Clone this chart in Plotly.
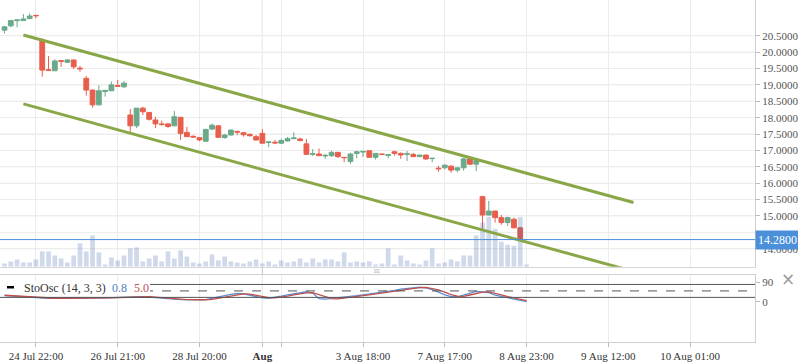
import plotly.graph_objects as go

# ---------------- data ----------------
candle_idx = list(range(84))
opens = [20.67, 20.80, 20.96, 20.96, 21.02, 21.12, 20.37, 19.46, 19.43, 19.74,
         19.69, 19.76, 19.51, 19.20, 18.84, 18.39, 18.80, 18.82, 18.98, 18.94,
         18.08, 17.75, 18.29, 18.16, 17.93, 17.81, 17.81, 17.75, 18.01, 17.55,
         17.43, 17.39, 17.28, 17.65, 17.75, 17.39, 17.47, 17.58, 17.54, 17.49,
         17.42, 17.52, 17.24, 17.25, 17.22, 17.29, 17.36, 17.35, 17.20, 16.88,
         16.89, 16.83, 16.84, 16.94, 16.79, 16.66, 16.91, 16.95, 16.99, 16.79,
         16.89, 16.85, 16.96, 16.91, 16.88, 16.88, 16.81, 16.86, 16.75, 16.46,
         16.47, 16.52, 16.40, 16.47, 16.74, 16.58, 15.59, 15.03, 15.15, 14.95,
         14.80, 14.90, 14.64, None]
highs = [20.80, 20.98, 21.00, 21.16, 21.18, 21.12, 20.42, 19.88, 19.78, 19.75,
         19.79, 19.77, 19.58, 19.27, 18.86, 18.99, 18.84, 19.10, 19.15, 19.12,
         18.26, 18.29, 18.33, 18.17, 18.03, 17.91, 17.84, 18.20, 18.02, 17.72,
         17.46, 17.41, 17.66, 17.82, 17.77, 17.50, 17.64, 17.60, 17.56, 17.52,
         17.47, 17.65, 17.27, 17.32, 17.36, 17.41, 17.55, 17.39, 17.35, 17.04,
         17.06, 16.89, 16.99, 16.96, 16.79, 16.93, 16.99, 16.98, 17.00, 16.91,
         16.89, 16.89, 16.99, 16.94, 16.98, 16.92, 16.86, 16.86, 16.76, 16.53,
         16.58, 16.55, 16.49, 16.78, 16.78, 16.71, 15.62, 15.46, 15.16, 15.03,
         14.98, 14.95, 14.67, None]
lows = [20.57, 20.76, 20.76, 20.96, 21.02, 21.03, 19.25, 19.42, 19.42, 19.55,
        19.68, 19.48, 19.40, 18.67, 18.30, 18.38, 18.64, 18.82, 18.96, 18.91,
        17.55, 17.68, 18.08, 17.91, 17.68, 17.75, 17.69, 17.74, 17.32, 17.41,
        17.38, 17.28, 17.27, 17.62, 17.38, 17.36, 17.45, 17.47, 17.42, 17.42,
        17.30, 17.22, 17.10, 17.19, 17.21, 17.27, 17.34, 17.28, 16.87, 16.83,
        16.83, 16.74, 16.80, 16.77, 16.64, 16.59, 16.76, 16.80, 16.78, 16.72,
        16.88, 16.76, 16.84, 16.74, 16.68, 16.80, 16.80, 16.71, 16.64, 16.35,
        16.42, 16.32, 16.33, 16.38, 16.56, 16.37, 14.59, 15.02, 14.80, 14.73,
        14.70, 14.62, 14.25, None]
closes = [20.77, 20.96, 20.98, 21.01, 21.10, 21.11, 19.45, 19.44, 19.73, 19.72,
          19.76, 19.55, 19.49, 18.84, 18.39, 18.82, 18.83, 19.00, 18.96, 19.05,
          17.75, 18.29, 18.18, 17.95, 17.81, 17.79, 17.73, 18.03, 17.52, 17.42,
          17.41, 17.32, 17.64, 17.77, 17.40, 17.47, 17.62, 17.56, 17.48, 17.45,
          17.32, 17.22, 17.26, 17.23, 17.30, 17.36, 17.38, 17.30, 16.88, 16.90,
          16.84, 16.85, 16.94, 16.81, 16.78, 16.89, 16.96, 16.97, 16.79, 16.91,
          16.88, 16.87, 16.91, 16.86, 16.90, 16.81, 16.86, 16.74, 16.76, 16.44,
          16.55, 16.40, 16.47, 16.74, 16.58, 16.69, 15.03, 15.15, 14.95, 14.80,
          14.95, 14.64, 14.28, None]
volumes = [3.3, 5.3, 7.3, 4.3, 4.3, 7.3, 15.3, 15.3, 11.3, 8.3,
           4.3, 11.3, 23.3, 15.3, 31.3, 14.3, 2.3, 9.3, 6.3, 11.3,
           18.3, 19.3, 5.3, 8.3, 11.3, 5.3, 15.3, 8.3, 16.3, 10.3,
           4.3, 3.3, 5.3, 12.3, 6.3, 10.3, 5.3, 4.3, 3.3, 5.3,
           7.3, 3.3, 5.3, 2.3, 6.3, 4.3, 5.3, 8.3, 4.3, 8.3,
           4.3, 7.3, 7.3, 5.3, 14.3, 4.3, 5.3, 4.3, 5.3, 2.3,
           3.3, 18.3, 2.3, 11.3, 6.3, 3.3, 2.3, 6.3, 18.3, 3.3,
           4.3, 7.3, 5.3, 11.3, 11.3, 31.3, 44.0, 49.6, 38.0, 25.0,
           22.0, 21.0, 49.6, 2.3]
sto_k = [28, 26, 24, 22, 20, 19, 17, 16, 16, 16,
         15, 15, 16, 17, 17, 18, 18, 19, 20, 22,
         23, 24, 23, 21, 18, 15, 13, 12, 10, 9,
         8, 8, 10, 15, 22, 28, 34, 38, 36, 30,
         24, 18, 16, 20, 26, 32, 37, 41, 46, 40,
         14, 12, 15, 16, 20, 24, 28, 32, 36, 40,
         42, 46, 52, 58, 62, 66, 67, 64, 56, 44,
         32, 24, 22, 30, 40, 48, 46, 42, 30, 24,
         18, 12, 6, 0.8]
sto_d = [30, 28, 26, 24, 22, 20, 19, 17, 16, 16,
         16, 15, 15, 16, 16, 17, 18, 18, 19, 20,
         22, 23, 23, 23, 21, 18, 15, 13, 12, 10,
         9, 8, 9, 11, 16, 22, 28, 33, 36, 35,
         30, 24, 19, 18, 21, 26, 32, 37, 41, 42,
         33, 22, 14, 13, 16, 20, 24, 28, 32, 36,
         39, 43, 47, 52, 57, 62, 65, 66, 62, 55,
         44, 33, 26, 25, 31, 39, 44, 45, 40, 32,
         24, 18, 12, 5.0]
sto_levels = [80, 50, 20]
last_price = 14.28
channel_x = [3, 100]
channel_upper = [20.52, 15.41]
channel_lower = [18.42, 13.31]
month_mark = 41
tick_idx = [5, 18, 31, 41, 44, 57, 70, 83, 96, 109]
tick_text = ["24 Jul 22:00", "26 Jul 21:00", "28 Jul 20:00", "<b>Aug</b>", "",
             "3 Aug 18:00", "7 Aug 17:00", "8 Aug 23:00", "9 Aug 12:00", "10 Aug 01:00"]
# 14.5 sits fully behind the last-price badge in the reference, so it is not drawn
price_ticks = [14.0, 15.0, 15.5, 16.0, 16.5, 17.0, 17.5, 18.0, 18.5, 19.0, 19.5, 20.0, 20.5]
price_grid = [14.0, 14.5, 15.0, 15.5, 16.0, 16.5, 17.0, 17.5, 18.0, 18.5, 19.0, 19.5, 20.0, 20.5]

# ---------------- layout geometry ----------------
W, H = 798, 363
ML, MR, MT, MB = 0, 43, 0, 21
PW = W - ML - MR
PH = H - MT - MB


def px_x(px):
    return (px - ML) / PW


def px_y(py):
    return (H - MB - py) / PH


MAIN_TOP, MAIN_BOT = 0, 266.7
OSC_TOP, OSC_BOT = 275, 342
X_RANGE = [-0.715, 119.32]
PRICE_RANGE = [13.453, 21.589]
OSC_RANGE = [-186.9, 123.8]
VOL_RANGE = [0, 266.7]

SERIF = "Liberation Serif, Times New Roman, serif"
GREEN = "#6aa98a"
RED = "#e85e4c"
BLUE_LINE = "#4a8fd8"
CHANNEL = "rgb(138,167,72)"

fig = go.Figure()

fig.add_trace(go.Candlestick(
    x=candle_idx, open=opens, high=highs, low=lows, close=closes,
    increasing=dict(line=dict(color=GREEN, width=1), fillcolor=GREEN),
    decreasing=dict(line=dict(color=RED, width=1), fillcolor=RED),
    whiskerwidth=0, xaxis="x", yaxis="y", showlegend=False, hoverinfo="skip"))

fig.add_trace(go.Bar(
    x=candle_idx, y=volumes, marker=dict(color="rgba(70,110,175,0.26)", line=dict(width=0)),
    xaxis="x", yaxis="y3", showlegend=False, hoverinfo="skip"))

fig.add_trace(go.Scatter(
    x=candle_idx, y=sto_k, mode="lines", line=dict(color="#5b8fd0", width=1.3),
    xaxis="x2", yaxis="y2", showlegend=False, hoverinfo="skip"))
fig.add_trace(go.Scatter(
    x=candle_idx, y=sto_d, mode="lines", line=dict(color="#c0504d", width=1.3),
    xaxis="x2", yaxis="y2", showlegend=False, hoverinfo="skip"))

shapes = []
# horizontal price gridlines
for g in price_grid:
    shapes.append(dict(type="line", xref="x domain", yref="y", x0=0, x1=1, y0=g, y1=g,
                       line=dict(color="#ececec", width=1), layer="below"))
# month boundary line
shapes.append(dict(type="line", xref="x", yref="paper", x0=month_mark, x1=month_mark,
                   y0=0, y1=1, line=dict(color="#c4c4c4", width=1), layer="below"))
# stochastic levels
for i, lv in enumerate(sto_levels):
    shapes.append(dict(type="line", xref="x2 domain", yref="y2", x0=0, x1=1, y0=lv, y1=lv,
                       line=dict(color="#555", width=1, dash="dash" if i == 1 else "solid"),
                       layer="above"))
# channel lines
for ys in (channel_upper, channel_lower):
    shapes.append(dict(type="line", xref="x", yref="y", x0=channel_x[0], x1=channel_x[1],
                       y0=ys[0], y1=ys[1], line=dict(color=CHANNEL, width=3), layer="above"))
# last price line
shapes.append(dict(type="line", xref="x domain", yref="y", x0=0, x1=1, y0=last_price, y1=last_price,
                   line=dict(color=BLUE_LINE, width=1), layer="above"))
# legend box in oscillator panel
shapes.append(dict(type="rect", xref="paper", yref="paper", x0=px_x(0), x1=px_x(150),
                   y0=px_y(293.5), y1=px_y(281.5), fillcolor="white", line=dict(width=0),
                   layer="above"))
shapes.append(dict(type="rect", xref="paper", yref="paper", x0=px_x(7), x1=px_x(14),
                   y0=px_y(288.5), y1=px_y(286), fillcolor="black", line=dict(width=0),
                   layer="above"))

annotations = [
    dict(xref="paper", yref="y", x=1.0, y=last_price, xanchor="left", yanchor="middle",
         text="14.2800", showarrow=False, bgcolor=BLUE_LINE, borderpad=2,
         font=dict(family=SERIF, size=12, color="white")),
    dict(xref="paper", yref="paper", x=px_x(22), y=px_y(287.5), xanchor="left", yanchor="middle",
         text="StoOsc (14, 3, 3)", showarrow=False, font=dict(family=SERIF, size=12, color="#333")),
    dict(xref="paper", yref="paper", x=px_x(110), y=px_y(287.5), xanchor="left", yanchor="middle",
         text="%.1f" % sto_k[-1], showarrow=False, font=dict(family=SERIF, size=12, color="#4f7fc0")),
    dict(xref="paper", yref="paper", x=px_x(132), y=px_y(287.5), xanchor="left", yanchor="middle",
         text="%.1f" % sto_d[-1], showarrow=False, font=dict(family=SERIF, size=12, color="#c0504d")),
    dict(xref="paper", yref="paper", x=px_x(788), y=px_y(279), xanchor="center", yanchor="middle",
         text="×", showarrow=False, font=dict(family="DejaVu Sans", size=17, color="#9a9a9a")),
    dict(xref="paper", yref="paper", x=px_x(377), y=px_y(271), xanchor="center", yanchor="middle",
         text="≡", showarrow=False, font=dict(family="DejaVu Sans", size=9, color="#c8c8c8")),
]

axis_common = dict(range=X_RANGE, tickmode="array", tickvals=tick_idx, showgrid=True,
                   gridcolor="#ececec", gridwidth=1, zeroline=False, fixedrange=True)

fig.update_layout(
    width=W, height=H, margin=dict(l=ML, r=MR, t=MT, b=MB, pad=0),
    paper_bgcolor="white", plot_bgcolor="white", showlegend=False,
    bargap=0.25, boxgap=0.2, boxgroupgap=0.05,
    xaxis=dict(**axis_common, domain=[0, 1], anchor="y", showticklabels=False, ticks="",
               showline=True, linecolor="#d6d6d6", linewidth=1,
               rangeslider=dict(visible=False)),
    xaxis2=dict(**axis_common, domain=[0, 1], anchor="y2", ticktext=tick_text,
                showticklabels=True, ticks="outside", ticklen=4, tickcolor="#bbb",
                showline=True, mirror=True, linecolor="#cfcfcf", linewidth=1,
                tickfont=dict(family=SERIF, size=11, color="#333")),
    yaxis=dict(domain=[px_y(MAIN_BOT), px_y(MAIN_TOP)], range=PRICE_RANGE, side="right",
               anchor="x", tickmode="array", tickvals=price_ticks, tickformat=".4f",
               showgrid=True, gridcolor="#ececec", zeroline=False,
               ticks="outside", ticklen=4, tickcolor="#bbb",
               showline=True, linecolor="#cfcfcf", linewidth=1,
               tickfont=dict(family=SERIF, size=11, color="#555"), fixedrange=True),
    yaxis3=dict(overlaying="y", range=VOL_RANGE, visible=False, anchor="x"),
    yaxis2=dict(domain=[px_y(OSC_BOT), px_y(OSC_TOP)], range=OSC_RANGE, side="right",
                anchor="x2", tickmode="array", tickvals=[0, 90], showgrid=False,
                zeroline=False, ticks="outside", ticklen=4, tickcolor="#bbb",
                showline=True, linecolor="#cfcfcf", linewidth=1,
                tickfont=dict(family=SERIF, size=11, color="#555"), fixedrange=True),
    shapes=shapes, annotations=annotations,
)

fig.write_html("out.html")
